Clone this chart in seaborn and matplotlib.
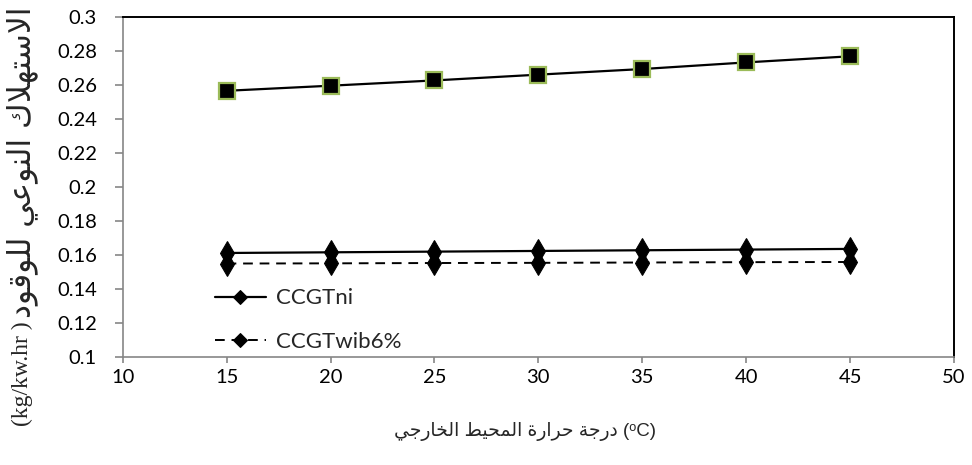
import matplotlib
matplotlib.use("Agg")
import matplotlib.pyplot as plt
from matplotlib.ticker import FuncFormatter, MultipleLocator
import seaborn as sns
import pandas as pd

# ---------------- data ----------------
temps = [15, 20, 25, 30, 35, 40, 45]
sfc_top = [0.2563, 0.2593, 0.2624, 0.2658, 0.2691, 0.2730, 0.2766]
sfc_ccgt_ni = [0.1609, 0.1613, 0.1617, 0.1621, 0.1625, 0.1629, 0.1633]
sfc_ccgt_wib = [0.1547, 0.1548, 0.1550, 0.1551, 0.1553, 0.1555, 0.1556]
label_ni = "CCGTni"
label_wib = "CCGTwib6%"
x_words = ["درجة", "حرارة", "المحيط", "الخارجي"]
x_unit = " (ᵒC)"
y_words = ["الاستهلاك", "النوعي", "للوقود"]
y_unit = "(kg/kw.hr )"

# ------------- simple Arabic shaping (presentation forms, visual order) -------------
_AR = {
    'ا': (0xFE8D, 0xFE8E, None, None),
    'ة': (0xFE93, 0xFE94, None, None),
    'ت': (0xFE95, 0xFE96, 0xFE97, 0xFE98),
    'ج': (0xFE9D, 0xFE9E, 0xFE9F, 0xFEA0),
    'ح': (0xFEA1, 0xFEA2, 0xFEA3, 0xFEA4),
    'خ': (0xFEA5, 0xFEA6, 0xFEA7, 0xFEA8),
    'د': (0xFEA9, 0xFEAA, None, None),
    'ر': (0xFEAD, 0xFEAE, None, None),
    'س': (0xFEB1, 0xFEB2, 0xFEB3, 0xFEB4),
    'ط': (0xFEC1, 0xFEC2, 0xFEC3, 0xFEC4),
    'ع': (0xFEC9, 0xFECA, 0xFECB, 0xFECC),
    'ق': (0xFED5, 0xFED6, 0xFED7, 0xFED8),
    'ك': (0xFED9, 0xFEDA, 0xFEDB, 0xFEDC),
    'ل': (0xFEDD, 0xFEDE, 0xFEDF, 0xFEE0),
    'م': (0xFEE1, 0xFEE2, 0xFEE3, 0xFEE4),
    'ن': (0xFEE5, 0xFEE6, 0xFEE7, 0xFEE8),
    'ه': (0xFEE9, 0xFEEA, 0xFEEB, 0xFEEC),
    'و': (0xFEED, 0xFEEE, None, None),
    'ي': (0xFEF1, 0xFEF2, 0xFEF3, 0xFEF4),
    'لا': (0xFEFB, 0xFEFC, None, None),
}


def shape_word(w):
    toks, i = [], 0
    while i < len(w):
        if w[i] == 'ل' and i + 1 < len(w) and w[i + 1] == 'ا':
            toks.append('لا')
            i += 2
        else:
            toks.append(w[i])
            i += 1
    out = []
    for k, t in enumerate(toks):
        f = _AR[t]
        prev_j = k > 0 and _AR[toks[k - 1]][2] is not None
        next_j = f[2] is not None and k + 1 < len(toks)
        if prev_j and next_j:
            c = f[3]
        elif prev_j:
            c = f[1]
        elif next_j:
            c = f[2]
        else:
            c = f[0]
        out.append(chr(c))
    return ''.join(reversed(out))


def visual_rtl(words):
    # whole Arabic run displayed right-to-left
    return ' '.join(shape_word(w) for w in reversed(words))


xlabel = visual_rtl(x_words) + x_unit
y_arabic = visual_rtl(y_words)

# ---------------- plot ----------------
sns.set_theme(style="white")
plt.rcParams['font.family'] = ['Lato', 'DejaVu Sans']

fig = plt.figure(figsize=(9.72, 4.65), dpi=100)
ax = fig.add_axes([0.1262, 0.2333, 0.8553, 0.7312])

df = pd.DataFrame({"T": temps, "top": sfc_top, "ni": sfc_ccgt_ni, "wib": sfc_ccgt_wib})

sns.lineplot(data=df, x="T", y="top", ax=ax, color="black", linewidth=1.6,
             marker="s", markersize=12, markerfacecolor="black",
             markeredgecolor="#9BBB59", markeredgewidth=1.6, legend=False)
sns.lineplot(data=df, x="T", y="ni", ax=ax, color="black", linewidth=1.6,
             marker="d", markersize=12, markerfacecolor="black",
             markeredgecolor="black", label=label_ni)
sns.lineplot(data=df, x="T", y="wib", ax=ax, color="black", linewidth=1.4,
             linestyle=(0, (5, 3.5)),
             marker="d", markersize=12, markerfacecolor="black",
             markeredgecolor="black", label=label_wib)

ax.set_xlim(10, 50)
ax.set_ylim(0.1, 0.3)
ax.xaxis.set_major_locator(MultipleLocator(5))
ax.yaxis.set_major_locator(MultipleLocator(0.02))
ax.yaxis.set_major_formatter(FuncFormatter(lambda v, p: f"{v:.2f}".rstrip('0').rstrip('.')))

for s in ["left", "bottom"]:
    ax.spines[s].set_color("#868686")
    ax.spines[s].set_linewidth(1.2)
for s in ["top", "right"]:
    ax.spines[s].set_color("black")
    ax.spines[s].set_linewidth(1.4)
    ax.spines[s].set_visible(True)

ax.tick_params(axis="y", which="major", direction="out", length=6, width=1.2,
               color="#868686", left=True, labelsize=14.5, pad=12.5, labelcolor="black")
ax.tick_params(axis="x", which="major", direction="out", length=4, width=1.2,
               color="#868686", bottom=True, labelsize=14.5, pad=5, labelcolor="black")

ax.set_xlabel(xlabel, fontsize=13.5, family=['Liberation Sans', 'DejaVu Sans'], labelpad=26)
ax.xaxis.label.set_x(0.484)
ax.set_ylabel("")

leg = ax.legend(loc="lower left", bbox_to_anchor=(0.1, -0.012), frameon=False,
                fontsize=16, handlelength=2.3, handletextpad=0.45, labelspacing=1.05,
                borderaxespad=0.0)
for h in leg.legend_handles:
    h.set_marker("D")
    h.set_markersize(7)

# y label: Latin part + Arabic part, rotated
t1 = fig.text(22 / 972, (465 - 426) / 465, y_unit, rotation=90, ha="center", va="bottom",
              fontsize=17, family=['Liberation Serif', 'DejaVu Sans'])
fig.canvas.draw()
bb = t1.get_window_extent()
top_frac = (bb.y1 + 3) / fig.bbox.height
fig.text(22 / 972, top_frac, y_arabic, rotation=90, ha="center", va="bottom",
         fontsize=22.5, family=['DejaVu Sans'])

fig.savefig("out.png", dpi=100)
